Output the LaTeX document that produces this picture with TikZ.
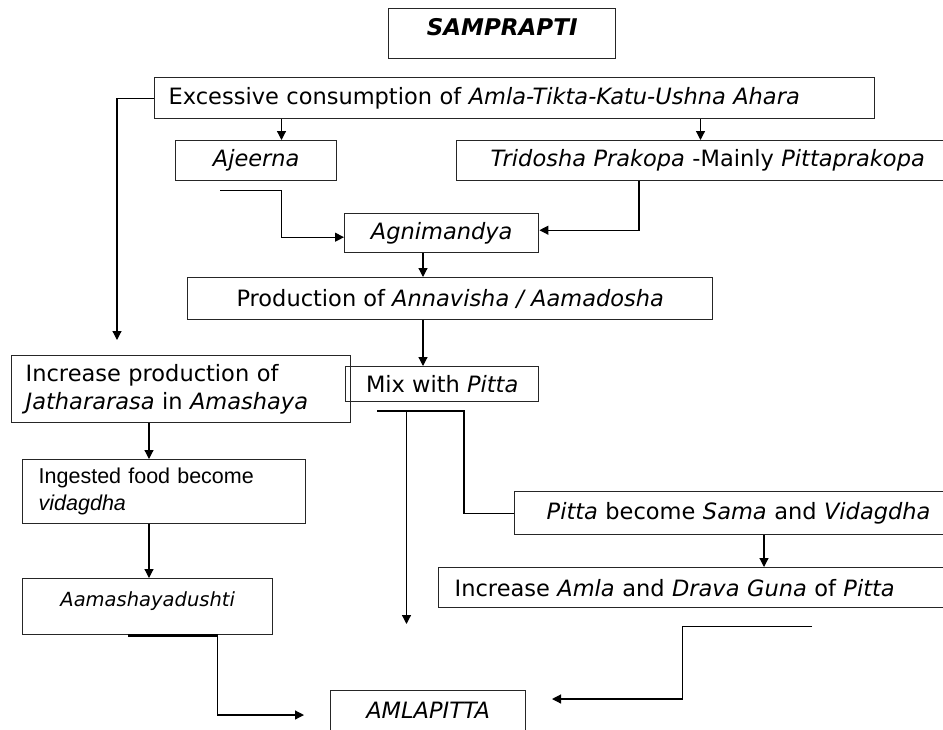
\documentclass[tikz,border=0pt]{standalone}
\usepackage{fontspec}
\setmainfont{DejaVu Sans}
\newfontfamily\arialfont{Liberation Sans}
\usetikzlibrary{arrows.meta,positioning}

\tikzset{
  pbox/.style={draw=black!85, line width=1.4pt, inner sep=0pt, anchor=north west,
    font=\fontsize{22.5}{28}\selectfont},
  lbox/.style={pbox, align=left},
  conn/.style={line width=1.2pt},
  arr/.style={conn, -{Triangle[length=9pt,width=9pt]}},
}

\begin{document}
\begin{tikzpicture}[x=1pt,y=-1pt]
    \useasboundingbox (0,0) rectangle (943,729);

    % boxes
    \node[pbox, minimum width=227pt, minimum height=50pt, text height=15.5pt, text depth=12pt,
      font=\fontsize{23}{26}\selectfont\bfseries\itshape] (samp) at (388,8) {SAMPRAPTI};
    \node[lbox, minimum width=720pt, minimum height=41pt, text width=692pt] (exc) at (154,77)
      {Excessive consumption of \textit{Amla-Tikta-Katu-Ushna Ahara}};
    \node[pbox, minimum width=161pt, minimum height=40pt] (ajeerna) at (175,140) {\textit{Ajeerna}};
    \node[lbox, minimum width=540pt, minimum height=40pt, text width=472pt] (tri) at (456,140)
      {\textit{Tridosha Prakopa} -Mainly \textit{Pittaprakopa}};
    \node[pbox, minimum width=194pt, minimum height=39pt] (agni) at (344,213) {\textit{Agnimandya}};
    \node[pbox, minimum width=525pt, minimum height=42pt] (prod) at (187,277)
      {Production of \textit{Annavisha / Aamadosha}};
    \node[lbox, minimum width=339pt, minimum height=67pt, text width=311pt] (inc) at (11,355)
      {Increase production of\\ \textit{Jathararasa} in \textit{Amashaya}};
    \node[pbox, minimum width=193pt, minimum height=35pt] (mix) at (345,366) {Mix with \textit{Pitta}};
    \node[lbox, minimum width=283pt, minimum height=64pt, text width=251pt,
      font=\arialfont\fontsize{21.5}{26.7}\selectfont] (ing) at (22,459)
      {Ingested food become\\ \textit{vidagdha}};
    \node[pbox, minimum width=250pt, minimum height=56pt, text depth=16pt,
      font=\fontsize{19.5}{24}\selectfont] (aam) at (22,578) {\textit{Aamashayadushti}};
    \node[lbox, minimum width=500pt, minimum height=43pt, text width=436pt] (pitta) at (514,491)
      {\textit{Pitta} become \textit{Sama} and \textit{Vidagdha}};
    \node[lbox, minimum width=540pt, minimum height=40pt, text width=508pt] (amla) at (438,567)
      {Increase \textit{Amla} and \textit{Drava Guna} of \textit{Pitta}};
    \node[pbox, minimum width=195pt, minimum height=40pt] (amlap) at (330,690) {\textit{AMLAPITTA}};

    % columns of the arrows
    \coordinate (x1) at (281.5,0);
    \coordinate (x2) at (700.5,0);
    \coordinate (x3) at (639,0);
    \coordinate (x4) at (423,0);
    \coordinate (x5) at (764,0);
    \coordinate (x6) at (149,0);
    \coordinate (x7) at (128,0);
    \coordinate (x8) at (217.7,0);
    \coordinate (x9) at (682.5,0);

    % free ends
    \coordinate (c1) at (117,340);
    \coordinate (c2) at (220,190.5);
    \coordinate (c3) at (406.5,624);
    \coordinate (c4) at (304,715);
    \coordinate (c5) at (812,626.5);
    \coordinate (c6) at (552,699);
    \coordinate (m1) at (377,411);
    \coordinate (m2) at (406.5,411);
    \coordinate (m3) at (464,411);
    \coordinate (a1) at ([yshift=-4pt]agni.west);
    \coordinate (a2) at ([yshift=3pt]agni.east);

    % connectors
    \draw[arr] (exc.west) -| (c1);
    \draw[arr] (exc.south -| x1) -- (ajeerna.north -| x1);
    \draw[arr] (exc.south -| x2) -- (tri.north -| x2);
    \draw[arr] (c2) -| (x1 |- a1) -- (a1);
    \draw[arr] (tri.south -| x3) |- (a2);
    \draw[arr] (agni.south -| x4) -- (prod.north -| x4);
    \draw[arr] (prod.south -| x4) -- (mix.north -| x4);
    \draw[conn] (m1) -- (m3) |- (pitta.west);
    \draw[arr] (m2) -- (c3);
    \draw[arr] (pitta.south -| x5) -- (amla.north -| x5);
    \draw[arr] (inc.south -| x6) -- (ing.north -| x6);
    \draw[arr] (ing.south -| x6) -- (aam.north -| x6);
    \draw[line width=2.6pt] (aam.south -| x7) -- (aam.south -| x8);
    \draw[arr] (aam.south -| x8) |- (c4);
    \draw[arr] (c5) -- (c5 -| x9) |- (c6);
\end{tikzpicture}
\end{document}
